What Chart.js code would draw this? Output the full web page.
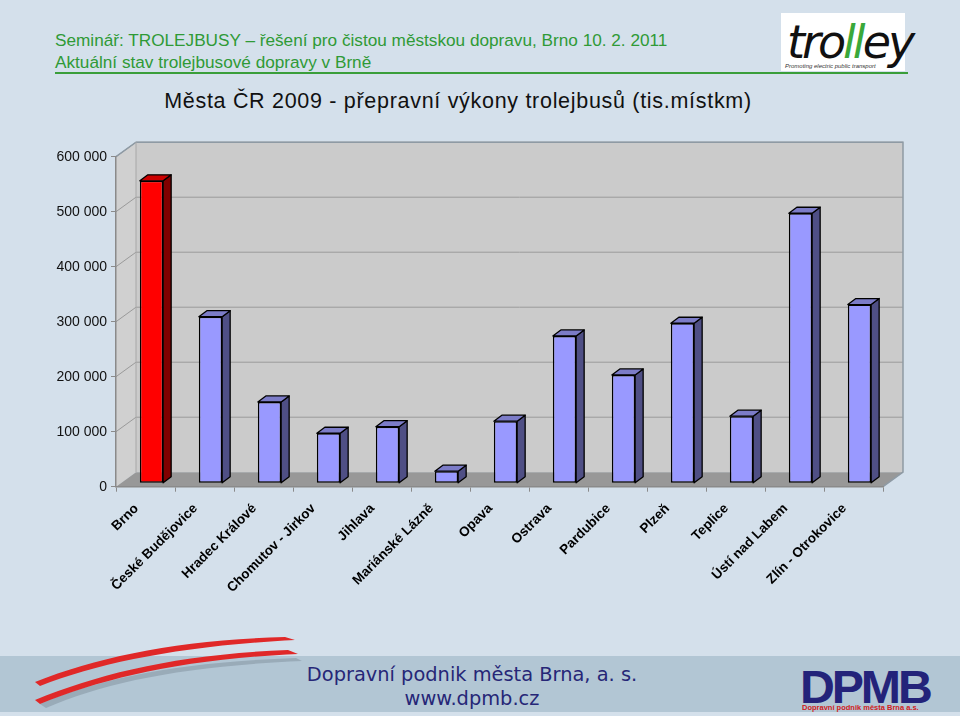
<!DOCTYPE html>
<html><head><meta charset="utf-8">
<script src="https://cdn.jsdelivr.net/npm/chart.js@4.4.1/dist/chart.umd.min.js"></script>
<style>
html,body{margin:0;padding:0;}
body{width:960px;height:716px;background:#d4e0eb;position:relative;overflow:hidden;font-family:"Liberation Sans",Arial,sans-serif;}
#c{position:absolute;left:0;top:0;}
.hdr{position:absolute;left:55px;color:#2f9a36;font-size:17.2px;white-space:nowrap;}
#h1{top:30px;}
#h2{top:52px;}
#hline{position:absolute;left:55px;top:72px;width:853px;height:2px;background:#3a9e3a;}
#logo{position:absolute;left:781px;top:13px;width:124px;height:58px;background:#fff;}
#logo .t{position:absolute;left:6px;top:2px;font-size:46px;font-style:italic;font-family:"DejaVu Sans",sans-serif;letter-spacing:-3px;color:#111;white-space:nowrap;}
#logo .t b{color:#3aa83a;font-weight:normal;}
#logo .s{position:absolute;left:4px;top:50px;font-size:6px;font-style:italic;color:#333;white-space:nowrap;}
#title{position:absolute;left:0;width:916px;text-align:center;top:89px;font-size:21.5px;letter-spacing:0.7px;color:#111;white-space:nowrap;}
#band{position:absolute;left:0;top:656px;width:960px;height:56px;background:#b2c6d4;}
#f1,#f2{position:absolute;left:0;width:944px;text-align:center;color:#262677;font-family:"DejaVu Sans",sans-serif;white-space:nowrap;}
#f1{top:663px;font-size:19.4px;}
#f2{top:687px;font-size:19.4px;}
#dpmb{position:absolute;left:800px;top:660px;font-size:46px;font-weight:bold;color:#23237a;font-family:"Liberation Sans",sans-serif;letter-spacing:-3px;transform:scaleX(1.05);transform-origin:left top;}
#dpmbs{position:absolute;left:802px;top:703px;font-size:7.5px;font-weight:bold;color:#d02020;white-space:nowrap;}
#sw{position:absolute;left:0;top:620px;}
</style></head><body>
<div class="hdr" id="h1">Seminář: TROLEJBUSY – řešení pro čistou městskou dopravu, Brno 10. 2. 2011</div>
<div class="hdr" id="h2">Aktuální stav trolejbusové dopravy v Brně</div>
<div id="hline"></div>
<div id="logo"><div class="t">tro<b>ll</b>ey</div><div class="s">Promoting electric public transport</div></div>
<div id="title">Města ČR 2009 - přepravní výkony trolejbusů (tis.místkm)</div>
<div id="band"></div>
<svg id="sw" width="320" height="96" viewBox="0 0 320 96">
  <path d="M40 84 C100 58 180 42 296 38 L302 41 C185 46 105 62 46 88 Z" fill="#7a8a96" opacity="0.45"/>
  <path d="M35 62 C100 36 180 20 285 17 L295 20 C182 26 102 42 40 66 Z" fill="#e02828"/>
  <path d="M35 80 C100 53 180 34 288 30 L298 34 C184 39 104 58 40 84 Z" fill="#e02828"/>
</svg>
<div id="f1">Dopravní podnik města Brna, a. s.</div>
<div id="f2">www.dpmb.cz</div>
<div id="dpmb">DPMB</div>
<div id="dpmbs">Dopravní podnik města Brna a.s.</div>
<canvas id="c" width="960" height="716"></canvas>
<script>
const categories = ["Brno","České Budějovice","Hradec Králové","Chomutov - Jirkov","Jihlava","Mariánské Lázně","Opava","Ostrava","Pardubice","Plzeň","Teplice","Ústí nad Labem","Zlín - Otrokovice"];
const values = [550000,303000,148000,91000,103000,22000,113000,268000,197000,291000,122000,491000,325000];
const yTickValues = [0,100000,200000,300000,400000,500000,600000];
const highlightCategory = "Brno";

const BAR_DX = 6, BAR_DY = -3.4;      // bar plane shift from front plane
const WALL_DX = 20, WALL_DY = -14.5;  // back wall shift
const SIDE_DX = 8, SIDE_DY = -6;      // bar depth

function fmt(v){ return String(v).replace(/\B(?=(\d{3})+(?!\d))/g,' '); }

const walls = {
  id:'walls',
  beforeDraw(chart){
    const {ctx, chartArea:ca, scales:{y}} = chart;
    ctx.save();
    ctx.fillStyle='#d0d0d0';
    ctx.beginPath();
    ctx.moveTo(ca.left, ca.top); ctx.lineTo(ca.left+WALL_DX, ca.top+WALL_DY);
    ctx.lineTo(ca.left+WALL_DX, ca.bottom+WALL_DY); ctx.lineTo(ca.left, ca.bottom);
    ctx.closePath(); ctx.fill();
    ctx.fillStyle='#cbcbcb';
    ctx.fillRect(ca.left+WALL_DX, ca.top+WALL_DY, ca.right-ca.left, ca.bottom-ca.top);
    ctx.fillStyle='#989898';
    ctx.beginPath();
    ctx.moveTo(ca.left, ca.bottom); ctx.lineTo(ca.left+WALL_DX, ca.bottom+WALL_DY);
    ctx.lineTo(ca.right+WALL_DX, ca.bottom+WALL_DY); ctx.lineTo(ca.right, ca.bottom);
    ctx.closePath(); ctx.fill();
    ctx.strokeStyle='#9a9a9a'; ctx.lineWidth=1;
    yTickValues.forEach(v=>{
      const py = y.getPixelForValue(v);
      if (v===0) return;
      ctx.beginPath();
      ctx.moveTo(ca.left, py); ctx.lineTo(ca.left+WALL_DX, py+WALL_DY);
      ctx.lineTo(ca.right+WALL_DX, py+WALL_DY);
      ctx.stroke();
    });
    ctx.strokeStyle='#8e9aa4'; ctx.lineWidth=1.5;
    ctx.beginPath();
    ctx.moveTo(ca.left, ca.top); ctx.lineTo(ca.left+WALL_DX, ca.top+WALL_DY);
    ctx.lineTo(ca.right+WALL_DX, ca.top+WALL_DY); ctx.lineTo(ca.right+WALL_DX, ca.bottom+WALL_DY);
    ctx.lineTo(ca.right, ca.bottom);
    ctx.stroke();
    ctx.strokeStyle='#a8a8a8'; ctx.lineWidth=1;
    ctx.beginPath();
    ctx.moveTo(ca.left+WALL_DX, ca.top+WALL_DY); ctx.lineTo(ca.left+WALL_DX, ca.bottom+WALL_DY);
    ctx.stroke();
    ctx.restore();
  },
  beforeDatasetsDraw(chart){
    chart.ctx.save();
    chart.ctx.translate(BAR_DX, BAR_DY);
  },
  afterDatasetsDraw(chart){
    const ctx = chart.ctx;
    ctx.restore();
    const meta = chart.getDatasetMeta(0);
    meta.data.forEach((bar,i)=>{
      const hi = categories[i]===highlightCategory;
      const l = bar.x - bar.width/2 + BAR_DX, r = bar.x + bar.width/2 + BAR_DX;
      const t = bar.y + BAR_DY, b = bar.base + BAR_DY;
      ctx.save();
      ctx.lineWidth=1.3; ctx.strokeStyle='#000'; ctx.lineJoin='round';
      ctx.fillStyle = hi ? '#800000' : '#4f4f85';
      ctx.beginPath();
      ctx.moveTo(r,t); ctx.lineTo(r+SIDE_DX,t+SIDE_DY); ctx.lineTo(r+SIDE_DX,b+SIDE_DY); ctx.lineTo(r,b);
      ctx.closePath(); ctx.fill(); ctx.stroke();
      ctx.fillStyle = hi ? '#cc0000' : '#7c7cc8';
      ctx.beginPath();
      ctx.moveTo(l,t); ctx.lineTo(l+SIDE_DX,t+SIDE_DY); ctx.lineTo(r+SIDE_DX,t+SIDE_DY); ctx.lineTo(r,t);
      ctx.closePath(); ctx.fill(); ctx.stroke();
      ctx.restore();
    });
  }
};

new Chart(document.getElementById('c'), {
  type:'bar',
  data:{
    labels: categories,
    datasets:[{
      data: values,
      backgroundColor: categories.map(c=> c===highlightCategory ? '#ff0000' : '#9999ff'),
      borderColor:'#000',
      borderWidth:1.5,
      borderSkipped:false,
      categoryPercentage:1,
      barPercentage:0.395,
      clip:false
    }]
  },
  options:{
    responsive:false,
    animation:false,
    devicePixelRatio:1,
    layout:{padding:{top:156.7,right:77,bottom:0,left:0}},
    plugins:{legend:{display:false},tooltip:{enabled:false},title:{display:false}},
    scales:{
      x:{
        offset:true,
        grid:{display:true,drawOnChartArea:false,drawTicks:true,tickLength:5,offset:true,color:'#8a8a8a'},
        border:{display:true,color:'#8a8a8a',width:1.5},
        ticks:{autoSkip:false,maxRotation:45,minRotation:45,color:'#000',padding:9,labelOffset:-9,
          font:{family:'"Liberation Sans", Arial, sans-serif',size:13.5,weight:'bold'}},
        afterFit(s){ s.height = 716-486.7; }
      },
      y:{
        min:0,max:600000,
        afterBuildTicks(s){ s.ticks = yTickValues.map(v=>({value:v})); },
        grid:{display:true,drawOnChartArea:false,drawTicks:true,tickLength:5,color:'#8a8a8a'},
        border:{display:true,color:'#8a8a8a',width:1.5},
        ticks:{color:'#111',padding:4,callback:v=>fmt(v),
          font:{family:'"Liberation Sans", Arial, sans-serif',size:14}},
        afterFit(s){ s.width = 116; }
      }
    }
  },
  plugins:[walls]
});
</script>
</body></html>
